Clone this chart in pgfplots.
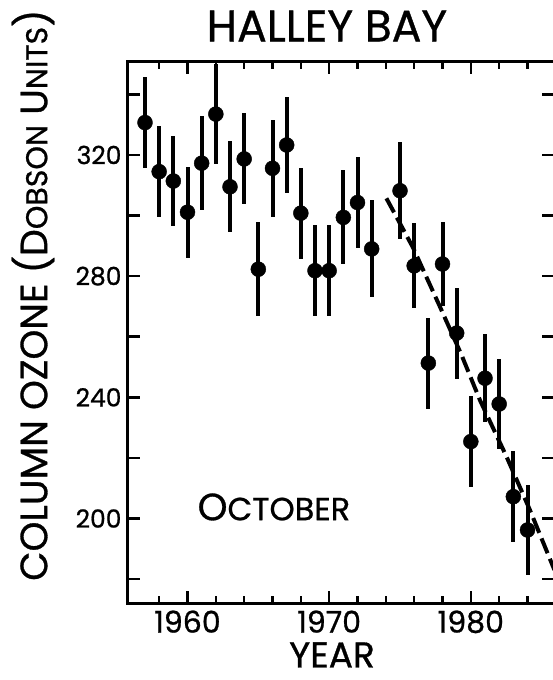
\documentclass[border=0pt]{standalone}
\usepackage{fontspec}
\setmainfont{Poppins}[FakeBold=0.8]
\usepackage{pgfplots}
\usepackage{pgfplotstable}
\pgfplotsset{compat=1.18}

\newcommand{\fs}[1]{\fontsize{#1}{#1}\selectfont}

% October mean column ozone, Halley Bay
\pgfplotstableread{
year val  err
1957 330.7 15
1958 314.5 15
1959 311.4 15
1960 301.1 15
1961 317.3 15.5
1962 333.5 16.5
1963 309.5 15
1964 318.7 15
1965 282.3 15.5
1966 315.6 16
1967 323.3 16
1968 300.8 15
1969 281.8 15
1970 281.8 15
1971 299.4 15.5
1972 304.3 15
1973 289.0 16
1975 308.2 16
1976 283.4 14
1977 251.3 15
1978 284.0 14
1979 261.2 15
1980 225.4 15
1981 246.3 14.5
1982 237.8 15
1983 207.2 15
1984 196.2 15
}\ozone

% hand-drawn trend
\pgfplotstableread{
year val
1974.04 305.7
1975.90 289.6
1977.81 270.0
1979.34 254.0
1980.64 239.1
1982.52 220.4
1984.17 202.8
1985.90 183.0
}\trend

\begin{document}
\begin{tikzpicture}
\begin{axis}[
    at={(0,0)}, anchor=south west,
    scale only axis,
    width=426pt, height=541pt,
    xmin=1955.8, xmax=1985.87,
    ymin=172.1, ymax=350.7,
    axis line style={line width=3pt},
    tick style={line width=2.5pt, black},
    tick align=inside,
    major tick length=12pt,
    minor tick length=7pt,
    xtick={1960,1970,1980},
    minor xtick={1958,1962,1964,1966,1968,1972,1974,1976,1978,1982,1984},
    ytick={180,200,...,340},
    yticklabels={,200,,240,,280,,320,},
    /pgf/number format/assume math mode=true,
    /pgf/number format/1000 sep={},
    xticklabel style={font=\fs{30}, yshift=-4pt},
    yticklabel style={font=\fs{25}, xshift=-3pt},
    title={HALLEY BAY},
    title style={at={(axis description cs:0.467,1.0555)}, anchor=center, font=\fs{44}},
    xlabel={YEAR},
    xlabel style={at={(axis description cs:0.479,-0.096)}, anchor=center, inner sep=0pt, font=\fs{36}},
    ylabel={COLUMN OZONE (D{\fs{30}OBSON} U{\fs{30}NITS})},
    ylabel style={at={(axis description cs:-0.223,0.569)}, anchor=center, font=\fs{38}},
]
\addplot[black, line width=4pt, dash pattern=on 16pt off 6pt] table[x=year,y=val]{\trend};
\addplot[only marks, mark=*, mark size=7.5pt, black, mark options={fill=black},
    error bars/.cd, y dir=both, y explicit,
    error bar style={line width=4pt}, error mark=none]
    table[x=year, y=val, y error=err]{\ozone};
\node at (axis cs:1966.1,203.8) {\fs{38}O\fs{32}CTOBER};
\end{axis}
\pgfresetboundingbox
\path[use as bounding box] (-128pt,-77pt) rectangle (424pt,603pt);
\end{tikzpicture}
\end{document}
